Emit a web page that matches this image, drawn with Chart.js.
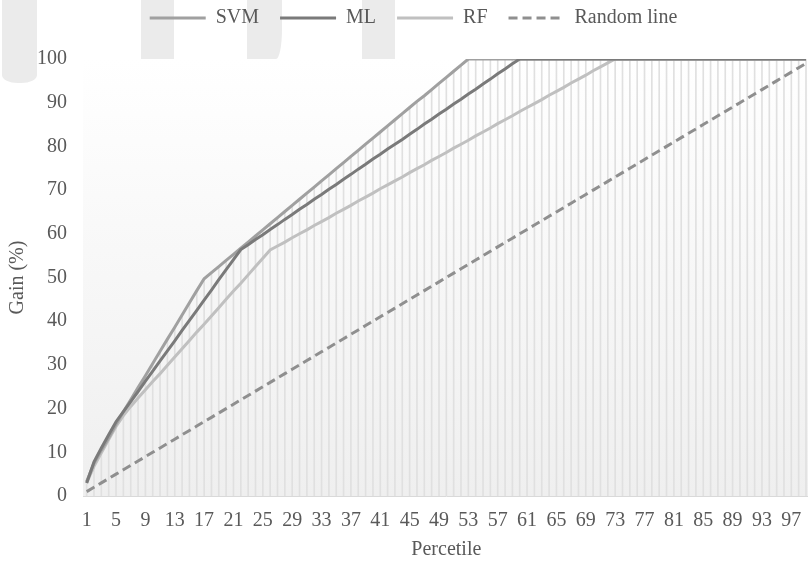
<!DOCTYPE html>
<html>
<head>
<meta charset="utf-8">
<title>Gain chart</title>
<script src="https://cdn.jsdelivr.net/npm/chart.js@4.4.1/dist/chart.umd.min.js"></script>
<style>
  html, body { margin: 0; padding: 0; background: #fff; overflow: hidden; }
  #wrap { position: relative; width: 819px; height: 564px; }
  .tab { position: absolute; top: 0; background: #ebebeb; }
  #gainChart { position: absolute; left: 0; top: 0; }
</style>
</head>
<body>
<div id="wrap">
  <!-- grey tabs bleeding in from the source page -->
  <div class="tab" style="left:2px;width:35px;height:83px;border-radius:0 0 45% 45%/0 0 8px 8px"></div>
  <div class="tab" style="left:141px;width:33px;height:59px"></div>
  <div class="tab" style="left:247px;width:35px;height:59px;border-radius:0 0 6px 0/0 0 30px 0"></div>
  <div class="tab" style="left:362px;width:33px;height:59px"></div>
  <canvas id="gainChart" width="819" height="564"></canvas>
</div>
<script>
const percentiles = [
  1, 2, 3, 4, 5, 6, 7, 8, 9, 10, 11, 12, 13, 14, 15, 16, 17, 18, 19, 20,
  21, 22, 23, 24, 25, 26, 27, 28, 29, 30, 31, 32, 33, 34, 35, 36, 37, 38, 39, 40,
  41, 42, 43, 44, 45, 46, 47, 48, 49, 50, 51, 52, 53, 54, 55, 56, 57, 58, 59, 60,
  61, 62, 63, 64, 65, 66, 67, 68, 69, 70, 71, 72, 73, 74, 75, 76, 77, 78, 79, 80,
  81, 82, 83, 84, 85, 86, 87, 88, 89, 90, 91, 92, 93, 94, 95, 96, 97, 98, 99
];
const xTickLabels = [1, 5, 9, 13, 17, 21, 25, 29, 33, 37, 41, 45, 49, 53, 57, 61, 65, 69, 73, 77, 81, 85, 89, 93, 97];

const svm = [
  3.3, 7.5, 10.5, 13.3, 16.4, 19.3, 22, 24.8, 27.5, 30.3, 33.1, 35.9, 38.6, 41.4, 44.2, 47, 49.7, 51.1, 52.5, 53.9,
  55.3, 56.7, 58.1, 59.5, 60.9, 62.3, 63.7, 65.1, 66.5, 67.9, 69.3, 70.7, 72.1, 73.5, 74.9, 76.3, 77.7, 79.1, 80.5, 81.9,
  83.3, 84.7, 86.1, 87.5, 88.9, 90.3, 91.6, 93, 94.4, 95.8, 97.2, 98.6, 100, 100, 100, 100, 100, 100, 100, 100,
  100, 100, 100, 100, 100, 100, 100, 100, 100, 100, 100, 100, 100, 100, 100, 100, 100, 100, 100, 100,
  100, 100, 100, 100, 100, 100, 100, 100, 100, 100, 100, 100, 100, 100, 100, 100, 100, 100, 100
];
const ml = [
  3, 7.8, 11, 14, 17, 19.3, 21.6, 23.9, 26.3, 28.6, 30.9, 33.2, 35.5, 37.9, 40.2, 42.5, 44.8, 47.1, 49.5, 51.8,
  54.1, 56.4, 57.5, 58.7, 59.8, 61, 62.1, 63.3, 64.4, 65.6, 66.7, 67.9, 69, 70.2, 71.3, 72.5, 73.6, 74.8, 75.9, 77.1,
  78.2, 79.4, 80.5, 81.6, 82.8, 83.9, 85.1, 86.2, 87.4, 88.5, 89.7, 90.8, 92, 93.1, 94.3, 95.4, 96.6, 97.7, 98.9, 100,
  100, 100, 100, 100, 100, 100, 100, 100, 100, 100, 100, 100, 100, 100, 100, 100, 100, 100, 100, 100,
  100, 100, 100, 100, 100, 100, 100, 100, 100, 100, 100, 100, 100, 100, 100, 100, 100, 100, 100
];
const rf = [
  3, 6.8, 9.9, 12.9, 15.9, 18.4, 20.5, 22.4, 24.3, 26.2, 28, 29.9, 31.8, 33.7, 35.6, 37.5, 39.3, 41.2, 43.1, 45,
  46.9, 48.7, 50.6, 52.5, 54.4, 56.3, 57.2, 58.1, 59.1, 60, 60.9, 61.9, 62.8, 63.7, 64.7, 65.6, 66.5, 67.5, 68.4, 69.3,
  70.3, 71.2, 72.1, 73, 74, 74.9, 75.8, 76.8, 77.7, 78.6, 79.6, 80.5, 81.4, 82.4, 83.3, 84.2, 85.2, 86.1, 87, 88,
  88.9, 89.8, 90.7, 91.7, 92.6, 93.5, 94.5, 95.4, 96.3, 97.3, 98.2, 99.1, 100, 100, 100, 100, 100, 100, 100, 100,
  100, 100, 100, 100, 100, 100, 100, 100, 100, 100, 100, 100, 100, 100, 100, 100, 100, 100, 100
];
const randomLine = [
  1, 2, 3, 4, 5, 6, 7, 8, 9, 10, 11, 12, 13, 14, 15, 16, 17, 18, 19, 20,
  21, 22, 23, 24, 25, 26, 27, 28, 29, 30, 31, 32, 33, 34, 35, 36, 37, 38, 39, 40,
  41, 42, 43, 44, 45, 46, 47, 48, 49, 50, 51, 52, 53, 54, 55, 56, 57, 58, 59, 60,
  61, 62, 63, 64, 65, 66, 67, 68, 69, 70, 71, 72, 73, 74, 75, 76, 77, 78, 79, 80,
  81, 82, 83, 84, 85, 86, 87, 88, 89, 90, 91, 92, 93, 94, 95, 96, 97, 98, 99
];

// drop lines: from the highest series down to the axis
const dropLines = percentiles.map((_, i) => Math.max(svm[i], ml[i], rf[i], randomLine[i]));

const serif = "'Liberation Serif', 'Times New Roman', serif";
const textColor = "#595959";

const plotBackground = {
  id: "plotBackground",
  beforeDraw(chart) {
    const { ctx, chartArea } = chart;
    const g = ctx.createLinearGradient(0, chartArea.top, 0, chartArea.bottom);
    g.addColorStop(0, "#ffffff");
    g.addColorStop(1, "#efefef");
    ctx.save();
    ctx.fillStyle = g;
    ctx.fillRect(chartArea.left, chartArea.top, chartArea.right - chartArea.left, chartArea.bottom - chartArea.top);
    ctx.restore();
  }
};

// fix the legend band height and nudge it right
const legendTweak = {
  id: "legendTweak",
  beforeUpdate(chart) {
    const legend = chart.legend;
    if (legend && !legend._patched) {
      const fit = legend.fit;
      legend.fit = function () {
        fit.call(this);
        this.height = 72;
      };
      legend._patched = true;
    }
  },
  afterLayout(chart) {
    chart.legend.left += 4;
    chart.legend.right += 4;
  }
};

const ctx = document.getElementById("gainChart").getContext("2d");

new Chart(ctx, {
  data: {
    labels: percentiles,
    datasets: [
      {
        type: "line",
        label: "SVM",
        data: svm,
        borderColor: "#a0a0a0",
        backgroundColor: "#a0a0a0",
        borderWidth: 3,
        pointRadius: 0,
        order: 2
      },
      {
        type: "line",
        label: "ML",
        data: ml,
        borderColor: "#7a7a7a",
        backgroundColor: "#7a7a7a",
        borderWidth: 3,
        pointRadius: 0,
        order: 1
      },
      {
        type: "line",
        label: "RF",
        data: rf,
        borderColor: "#c0c0c0",
        backgroundColor: "#c0c0c0",
        borderWidth: 3,
        pointRadius: 0,
        order: 3
      },
      {
        type: "line",
        label: "Random line",
        data: randomLine,
        borderColor: "#8f8f8f",
        backgroundColor: "#8f8f8f",
        borderWidth: 3,
        borderDash: [9, 5],
        pointRadius: 0,
        order: 0
      },
      {
        type: "bar",
        label: "drop",
        data: dropLines,
        backgroundColor: "#e0e0e0",
        barThickness: 1,
        order: 10
      }
    ]
  },
  options: {
    responsive: false,
    animation: false,
    layout: { padding: { top: -13, left: 0, right: 0, bottom: 0 } },
    plugins: {
      tooltip: { enabled: false },
      legend: {
        position: "top",
        labels: {
          font: { family: serif, size: 20 },
          color: textColor,
          usePointStyle: true,
          pointStyle: "line",
          pointStyleWidth: 56,
          boxWidth: 56,
          boxHeight: 20,
          padding: 21,
          filter: (item) => item.text !== "drop",
          sort: (a, b) => a.datasetIndex - b.datasetIndex,
          generateLabels: (chart) =>
            Chart.defaults.plugins.legend.labels.generateLabels(chart).map((item) => {
              const ds = chart.data.datasets[item.datasetIndex];
              item.lineDash = ds.borderDash || [];
              item.lineWidth = 3;
              item.strokeStyle = ds.borderColor;
              return item;
            })
        }
      }
    },
    scales: {
      x: {
        offset: true,
        grid: { display: false, drawTicks: false },
        border: { display: true, color: "#d9d9d9", width: 1 },
        ticks: {
          autoSkip: false,
          maxRotation: 0,
          minRotation: 0,
          padding: 13,
          font: { family: serif, size: 20 },
          color: textColor,
          callback: function (value, index) {
            const p = percentiles[index];
            return xTickLabels.includes(p) ? String(p) : "";
          }
        },
        title: {
          display: true,
          text: "Percetile",
          font: { family: serif, size: 20 },
          color: textColor,
          padding: { top: 0, bottom: 2 }
        },
        afterFit: (scale) => { scale.height = 68; }
      },
      y: {
        min: 0,
        max: 100,
        grid: { display: false, drawTicks: false },
        border: { display: false },
        ticks: {
          stepSize: 10,
          padding: 16,
          font: { family: serif, size: 20 },
          color: textColor
        },
        title: {
          display: true,
          text: "Gain (%)",
          font: { family: serif, size: 20 },
          color: textColor,
          padding: { top: 6, bottom: 0 }
        },
        afterFit: (scale) => { scale.width = 83; }
      }
    }
  },
  plugins: [plotBackground, legendTweak]
});
</script>
</body>
</html>
